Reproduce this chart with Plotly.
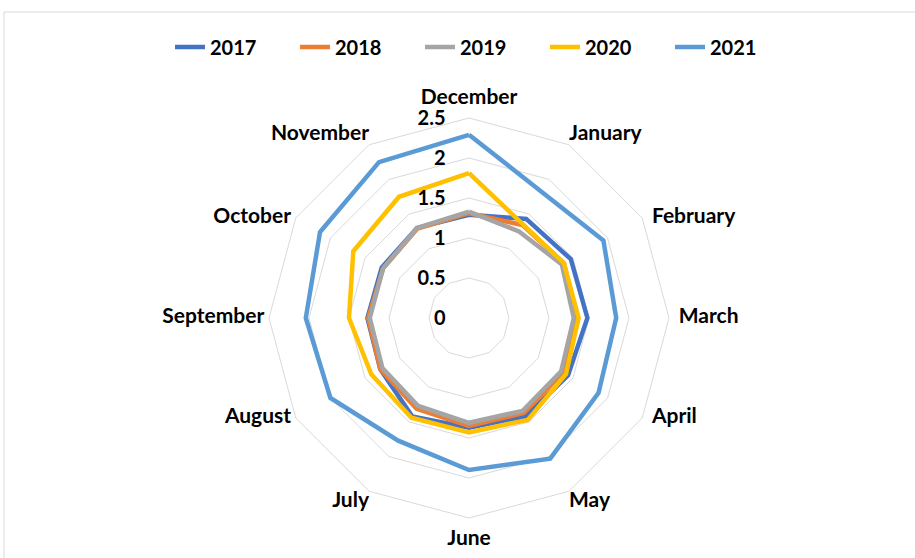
import plotly.graph_objects as go

# Month categories, clockwise from the top spoke
months = ["December", "January", "February", "March", "April", "May",
          "June", "July", "August", "September", "October", "November"]

# Series values per month
y2017 = [1.29, 1.43, 1.47, 1.48, 1.43, 1.42, 1.37, 1.42, 1.28, 1.27, 1.26, 1.30]
y2018 = [1.31, 1.34, 1.37, 1.35, 1.36, 1.37, 1.35, 1.31, 1.28, 1.26, 1.24, 1.29]
y2019 = [1.33, 1.25, 1.34, 1.31, 1.33, 1.34, 1.31, 1.27, 1.25, 1.24, 1.24, 1.30]
y2020 = [1.81, 1.35, 1.37, 1.37, 1.40, 1.47, 1.43, 1.44, 1.41, 1.50, 1.67, 1.75]
y2021 = [2.29, 1.82, 1.94, 1.84, 1.87, 2.03, 1.90, 1.77, 2.00, 2.04, 2.15, 2.25]

series = [
    ("2017", y2017, "#4472C4"),
    ("2018", y2018, "#ED7D31"),
    ("2019", y2019, "#A5A5A5"),
    ("2020", y2020, "#FFC000"),
    ("2021", y2021, "#5B9BD5"),
]

radial_ticks = [0, 0.5, 1, 1.5, 2, 2.5]
r_max = 2.5

# Month-name placement around the outer ring vertices
label_pos = ["top center", "top right", "middle right", "middle right",
             "middle right", "bottom right", "bottom center", "bottom left",
             "middle left", "middle left", "middle left", "top left"]
label_gap = [12, 0, 14, 14, 14, 0, 16, 0, 6, 6, 6, 0]

FONT = "Lato"
bold = dict(family=FONT, size=20, color="black", weight="bold")
bold_lbl = dict(family=FONT, size=21, color="black", weight="bold")


def tick_text(v):
    s = f"{v:g}"
    # pad single-character labels so the column reads right-aligned
    return ("\u00a0" * 4 + s) if len(s) == 1 else s


fig = go.Figure()
for name, vals, color in series:
    fig.add_trace(go.Scatterpolar(
        r=vals + vals[:1],
        theta=months + months[:1],
        mode="lines",
        name=name,
        line=dict(color=color, width=4.5),
    ))

# Month names around the outer ring
fig.add_trace(go.Scatterpolar(
    r=[r_max] * len(months),
    theta=months,
    mode="markers+text",
    text=months,
    textposition=label_pos,
    textfont=bold_lbl,
    marker=dict(size=label_gap, opacity=0),
    cliponaxis=False,
    showlegend=False,
    hoverinfo="skip",
))

W, H = 915, 558
cx, cy, R = 469, 318, 200

fig.update_layout(
    width=W, height=H,
    margin=dict(l=0, r=0, t=0, b=0),
    paper_bgcolor="white",
    plot_bgcolor="white",
    font=bold,
    showlegend=True,
    legend=dict(
        orientation="h",
        x=170 / W, xanchor="left",
        y=1 - 47 / H, yanchor="middle",
        entrywidth=80, entrywidthmode="pixels",
        font=bold,
        bgcolor="rgba(0,0,0,0)",
    ),
    polar=dict(
        domain=dict(x=[(cx - R) / W, (cx + R) / W],
                    y=[(H - cy - R) / H, (H - cy + R) / H]),
        gridshape="linear",
        bgcolor="white",
        radialaxis=dict(
            range=[0, r_max],
            tickvals=radial_ticks,
            ticktext=[tick_text(v) for v in radial_ticks],
            angle=90,
            tickangle=90,
            side="counterclockwise",
            showline=False,
            ticks="outside",
            ticklen=16,
            tickcolor="rgba(0,0,0,0)",
            gridcolor="#D9D9D9",
            gridwidth=1,
            tickfont=bold,
        ),
        angularaxis=dict(
            categoryorder="array",
            categoryarray=months,
            rotation=90,
            direction="clockwise",
            showgrid=False,
            showline=True,
            linecolor="#D9D9D9",
            linewidth=1,
            ticks="",
            showticklabels=False,
        ),
    ),
    shapes=[dict(
        type="rect", xref="paper", yref="paper",
        x0=4 / W, x1=1.02, y0=-0.02, y1=1 - 12 / H,
        line=dict(color="#D9D9D9", width=1),
        fillcolor="rgba(0,0,0,0)",
        layer="below",
    )],
)

fig.write_html("out.html")
